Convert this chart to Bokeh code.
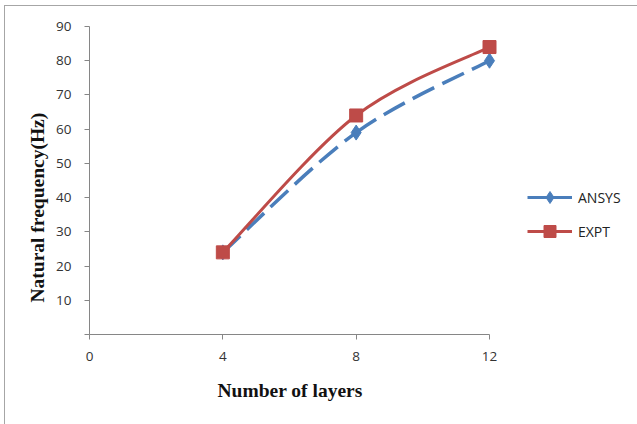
from bokeh.embed import file_html
from bokeh.resources import INLINE
from bokeh.plotting import figure
from bokeh.models import (
    Range1d, FixedTicker, Legend, LegendItem, Title, ColumnDataSource,
)

# Natural frequency vs. number of layers
layers = [4, 8, 12]
ansys = [24, 59, 80]
expt = [24, 64, 84]

x_ticks = [0, 4, 8, 12]
y_ticks = [0, 10, 20, 30, 40, 50, 60, 70, 80, 90]

BLUE = "#4A7EBB"
RED = "#BE4B48"
AXIS_GREY = "#868686"
TITLE_FONT = "Liberation Serif"


def smooth_segments(xs, ys):
    """Cubic Bezier segments (cardinal spline, tension 1/6) through the points."""
    n = len(xs)
    seg = dict(x0=[], y0=[], x1=[], y1=[], cx0=[], cy0=[], cx1=[], cy1=[])
    for i in range(n - 1):
        xp, yp = (xs[i - 1], ys[i - 1]) if i > 0 else (xs[i], ys[i])
        xn, yn = (xs[i + 2], ys[i + 2]) if i + 2 < n else (xs[i + 1], ys[i + 1])
        seg["x0"].append(xs[i]); seg["y0"].append(ys[i])
        seg["x1"].append(xs[i + 1]); seg["y1"].append(ys[i + 1])
        seg["cx0"].append(xs[i] + (xs[i + 1] - xp) / 6.0)
        seg["cy0"].append(ys[i] + (ys[i + 1] - yp) / 6.0)
        seg["cx1"].append(xs[i + 1] - (xn - xs[i]) / 6.0)
        seg["cy1"].append(ys[i + 1] - (yn - ys[i]) / 6.0)
    return ColumnDataSource(seg)


p = figure(
    frame_width=410, frame_height=308,
    min_border_left=84, min_border_right=138,
    min_border_top=20, min_border_bottom=90,
    x_range=Range1d(0, 12.3), y_range=Range1d(0, 90),
    output_backend="svg", toolbar_location=None,
)
p.styles = {
    "margin-left": "4px", "margin-top": "5px",
    "border-left": "1px solid #a6a6a6", "border-top": "1px solid #a6a6a6",
}
p.outline_line_color = None
p.background_fill_color = "white"
p.border_fill_color = "white"
p.grid.visible = False

for ax, ticks in ((p.xaxis, x_ticks), (p.yaxis, y_ticks)):
    ax.ticker = FixedTicker(ticks=ticks)
    ax.axis_line_color = AXIS_GREY
    ax.major_tick_line_color = AXIS_GREY
    ax.minor_tick_line_color = None
    ax.major_tick_in = 0
    ax.major_tick_out = 5
    ax.major_label_text_font = "Open Sans"
    ax.major_label_text_font_size = "13.5px"
    ax.major_label_text_color = "#333333"

p.xaxis.bounds = (0, 12)
p.yaxis.bounds = (0, 90)
p.xaxis.major_label_standoff = 12
p.yaxis.major_label_standoff = 13
p.yaxis.major_label_overrides = {0: ""}

# axis titles
title_style = dict(text_font=TITLE_FONT, text_font_style="bold",
                   text_font_size="19.5px", text_color="#111111")
p.add_layout(Title(text="Number of layers", align="left", offset=128,
                   standoff=32, vertical_align="top", **title_style), "below")
p.add_layout(Title(text="Natural frequency(Hz)", align="left", offset=32,
                   standoff=12, vertical_align="bottom", **title_style), "left")

# ANSYS: long-dashed smooth curve with diamonds
p.bezier(x0="x0", y0="y0", x1="x1", y1="y1", cx0="cx0", cy0="cy0",
         cx1="cx1", cy1="cy1", source=smooth_segments(layers, ansys),
         line_color=BLUE, line_width=3.5, line_dash="24 9")
a_pts = p.scatter(layers, ansys, marker="diamond", size=15,
                  fill_color=BLUE, line_color=BLUE)

# EXPT: solid smooth curve with squares
p.bezier(x0="x0", y0="y0", x1="x1", y1="y1", cx0="cx0", cy0="cy0",
         cx1="cx1", cy1="cy1", source=smooth_segments(layers, expt),
         line_color=RED, line_width=3)
e_pts = p.scatter(layers, expt, marker="square", size=13,
                  fill_color=RED, line_color=RED)

# legend keys: a solid line behind each marker (hidden in the plot area)
a_key = p.line(layers, ansys, line_color=BLUE, line_width=3, visible=False)
e_key = p.line(layers, expt, line_color=RED, line_width=3, visible=False)

legend = Legend(
    items=[LegendItem(label="ANSYS", renderers=[a_key, a_pts]),
           LegendItem(label="EXPT", renderers=[e_key, e_pts])],
    location=(28, 88), click_policy="none",
    border_line_color=None, background_fill_alpha=0,
    padding=0, margin=0, spacing=4,
    glyph_width=45, glyph_height=30, label_height=20, label_standoff=6,
    label_text_font="Open Sans", label_text_font_size="14px",
    label_text_color="#222222",
)
p.add_layout(legend, "right")

open("out.html", "w").write(file_html(p, INLINE))
